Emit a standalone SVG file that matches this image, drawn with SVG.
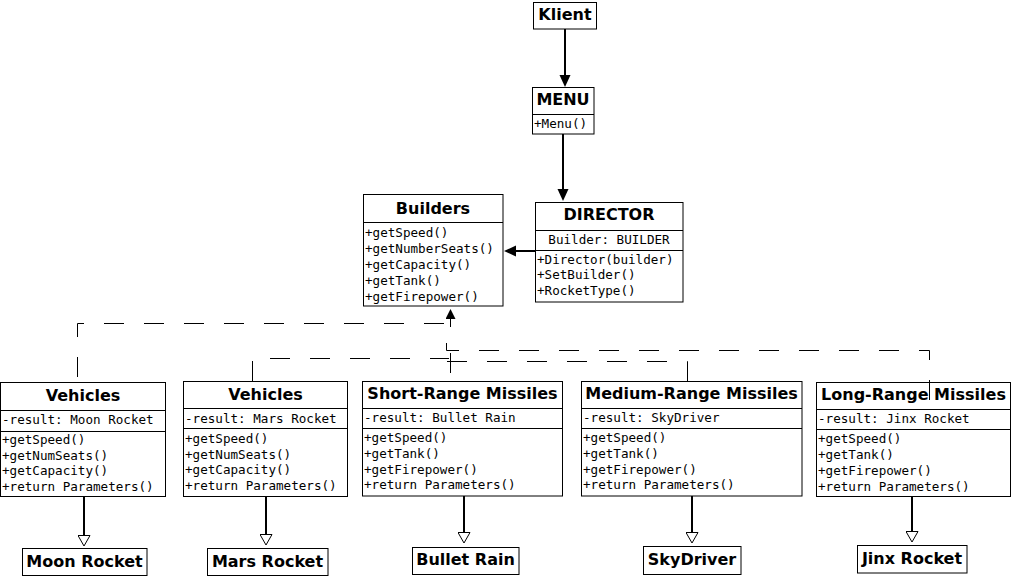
<svg xmlns="http://www.w3.org/2000/svg" width="1012" height="578" viewBox="0 0 1012 578">
<style>
.box{fill:#fff;stroke:#000;stroke-width:1}
.div{stroke:#000;stroke-width:1}
.t{font-family:"DejaVu Sans","Liberation Sans",sans-serif;font-weight:bold;font-size:16px;fill:#000;text-anchor:middle}
.m{font-family:"DejaVu Sans Mono","Liberation Mono",monospace;font-size:12.6px;fill:#000}
.mc{text-anchor:middle}
.solid{fill:none;stroke:#000;stroke-width:2}
.dash{fill:none;stroke:#000;stroke-width:1;stroke-dasharray:20 20}
</style>
<defs>
<marker id="af" markerUnits="userSpaceOnUse" markerWidth="12" markerHeight="12" viewBox="0 0 12 12" refX="0" refY="6" orient="auto"><path d="M0,0.5 L12,6 L0,11.5 z" fill="#000"/></marker>
<marker id="ad" markerUnits="userSpaceOnUse" markerWidth="10" markerHeight="10" viewBox="0 0 10 10" refX="0" refY="5" orient="auto"><path d="M0,0 L10,5 L0,10 z" fill="#000"/></marker>
<marker id="ao" markerUnits="userSpaceOnUse" markerWidth="12" markerHeight="13" viewBox="0 0 12 13" refX="0" refY="6.5" orient="auto"><path d="M0.5,0.5 L11,6.5 L0.5,12.5 z" fill="#fff" stroke="#000" stroke-width="1"/></marker>
</defs>

<g id="klient">
<rect class="box" x="533.5" y="2.5" width="63" height="26.5"/>
<text class="t" x="565" y="20">Klient</text>
</g>

<g id="menu">
<rect class="box" x="532.5" y="87.5" width="61.5" height="46.5"/>
<line class="div" x1="532.5" y1="114.5" x2="594" y2="114.5"/>
<text class="t" x="563" y="105">MENU</text>
<text class="m" x="534" y="128">+Menu()</text>
</g>

<g id="director">
<rect class="box" x="535.5" y="202.5" width="147.5" height="99.5"/>
<line class="div" x1="535.5" y1="230.5" x2="683" y2="230.5"/>
<line class="div" x1="535.5" y1="250.5" x2="683" y2="250.5"/>
<text class="t" x="609" y="220">DIRECTOR</text>
<text class="m mc" x="609" y="243.5">Builder: BUILDER</text>
<text class="m" x="537" y="263.5">+Director(builder)</text>
<text class="m" x="537" y="279">+SetBuilder()</text>
<text class="m" x="537" y="295">+RocketType()</text>
</g>

<g id="builders">
<rect class="box" x="363.5" y="194.5" width="139.5" height="111.5"/>
<line class="div" x1="363.5" y1="222.5" x2="503" y2="222.5"/>
<text class="t" x="433" y="213.5">Builders</text>
<text class="m" x="365" y="237">+getSpeed()</text>
<text class="m" x="365" y="253">+getNumberSeats()</text>
<text class="m" x="365" y="269">+getCapacity()</text>
<text class="m" x="365" y="285">+getTank()</text>
<text class="m" x="365" y="301">+getFirepower()</text>
</g>

<g id="vehicles-moon">
<rect class="box" x="0.5" y="382.5" width="165" height="114"/>
<line class="div" x1="0.5" y1="410.5" x2="165.5" y2="410.5"/>
<line class="div" x1="0.5" y1="431.5" x2="165.5" y2="431.5"/>
<text class="t" x="83" y="401">Vehicles</text>
<text class="m" x="2" y="424">-result: Moon Rocket</text>
<text class="m" x="2" y="444">+getSpeed()</text>
<text class="m" x="2" y="459.7">+getNumSeats()</text>
<text class="m" x="2" y="475.4">+getCapacity()</text>
<text class="m" x="2" y="491">+return Parameters()</text>
</g>

<g id="vehicles-mars">
<rect class="box" x="183.5" y="381.5" width="164" height="115"/>
<line class="div" x1="183.5" y1="408.5" x2="347.5" y2="408.5"/>
<line class="div" x1="183.5" y1="428.5" x2="347.5" y2="428.5"/>
<text class="t" x="265.5" y="400">Vehicles</text>
<text class="m" x="185" y="423">-result: Mars Rocket</text>
<text class="m" x="185" y="443">+getSpeed()</text>
<text class="m" x="185" y="458.7">+getNumSeats()</text>
<text class="m" x="185" y="474.4">+getCapacity()</text>
<text class="m" x="185" y="490">+return Parameters()</text>
</g>

<g id="short-range">
<rect class="box" x="362.5" y="381.5" width="200" height="114.5"/>
<line class="div" x1="362.5" y1="408.5" x2="562.5" y2="408.5"/>
<line class="div" x1="362.5" y1="428.5" x2="562.5" y2="428.5"/>
<text class="t" x="462.5" y="398.5">Short-Range Missiles</text>
<text class="m" x="364" y="422">-result: Bullet Rain</text>
<text class="m" x="364" y="441.5">+getSpeed()</text>
<text class="m" x="364" y="457.5">+getTank()</text>
<text class="m" x="364" y="473.5">+getFirepower()</text>
<text class="m" x="364" y="489">+return Parameters()</text>
</g>

<g id="medium-range">
<rect class="box" x="581.5" y="381.5" width="220.5" height="114.5"/>
<line class="div" x1="581.5" y1="408.5" x2="802" y2="408.5"/>
<line class="div" x1="581.5" y1="428.5" x2="802" y2="428.5"/>
<text class="t" x="691.5" y="398.5">Medium-Range Missiles</text>
<text class="m" x="583" y="422">-result: SkyDriver</text>
<text class="m" x="583" y="441.5">+getSpeed()</text>
<text class="m" x="583" y="457.5">+getTank()</text>
<text class="m" x="583" y="473.5">+getFirepower()</text>
<text class="m" x="583" y="489">+return Parameters()</text>
</g>

<g id="long-range">
<rect class="box" x="816.5" y="382.5" width="194" height="114"/>
<line class="div" x1="816.5" y1="409.5" x2="1010.5" y2="409.5"/>
<line class="div" x1="816.5" y1="429.5" x2="1010.5" y2="429.5"/>
<text class="t" x="913.5" y="400">Long-Range Missiles</text>
<text class="m" x="818" y="423">-result: Jinx Rocket</text>
<text class="m" x="818" y="443">+getSpeed()</text>
<text class="m" x="818" y="459">+getTank()</text>
<text class="m" x="818" y="474.5">+getFirepower()</text>
<text class="m" x="818" y="490.5">+return Parameters()</text>
</g>

<g id="moon-rocket">
<rect class="box" x="22.5" y="548.5" width="124.5" height="27"/>
<text class="t" x="84.5" y="567">Moon Rocket</text>
</g>
<g id="mars-rocket">
<rect class="box" x="207.5" y="548.5" width="120.5" height="27"/>
<text class="t" x="267.5" y="567">Mars Rocket</text>
</g>
<g id="bullet-rain">
<rect class="box" x="412.5" y="547.5" width="106.5" height="27"/>
<text class="t" x="465.5" y="565">Bullet Rain</text>
</g>
<g id="skydriver">
<rect class="box" x="643.5" y="546.5" width="97.5" height="28"/>
<text class="t" x="692" y="565">SkyDriver</text>
</g>
<g id="jinx-rocket">
<rect class="box" x="857.5" y="545.5" width="109.5" height="27.5"/>
<text class="t" x="912" y="564">Jinx Rocket</text>
</g>

<g id="connectors">
<path class="solid" d="M565,29 V75" marker-end="url(#af)"/>
<path class="solid" d="M563,134 V189" marker-end="url(#af)"/>
<path class="solid" d="M535,251 H516" marker-end="url(#af)"/>

<path class="solid" d="M84,497 V535" marker-end="url(#ao)"/>
<path class="solid" d="M266,497 V534" marker-end="url(#ao)"/>
<path class="solid" d="M464,496 V532" marker-end="url(#ao)"/>
<path class="solid" d="M692,496 V532" marker-end="url(#ao)"/>
<path class="solid" d="M912,497 V531" marker-end="url(#ao)"/>

<path class="dash" d="M929.5,400 V350.5 H446.5 V330.5 H450.5 V319" marker-end="url(#ad)"/>
<path class="dash" d="M77.5,382 V323.5 H450.5" style="stroke-dashoffset:35"/>
<path class="dash" d="M252.5,381 V358.5 H449"/>
<path class="dash" d="M687.5,381 V361.5 H446"/>
<path class="dash" d="M450.5,381 V340" style="stroke-dashoffset:32"/>
</g>
</svg>
